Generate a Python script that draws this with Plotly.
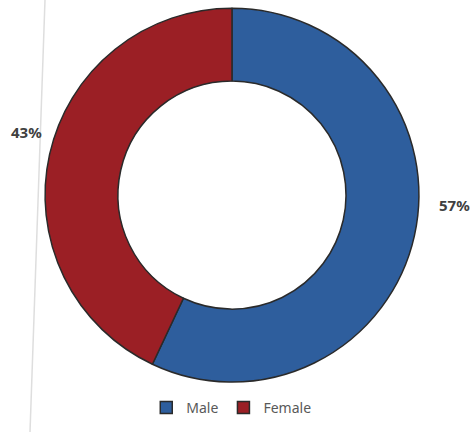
import plotly.graph_objects as go

labels = ["Male", "Female"]
values = [57, 43]
colors = ["#2E5E9D", "#9B1F25"]

fig = go.Figure()
fig.add_trace(go.Pie(
    labels=labels,
    values=values,
    hole=0.61,
    sort=False,
    direction="clockwise",
    rotation=0,
    textinfo="none",
    hoverinfo="label+percent",
    marker=dict(colors=colors, line=dict(color="#2a2a2a", width=1.5)),
    domain=dict(x=[0.0953, 0.8877], y=[0.1157, 0.981]),
))

total = sum(values)
label_pos = {"Male": (0.962, 0.525), "Female": (0.057, 0.694)}
annotations = []
for lab, v in zip(labels, values):
    x, y = label_pos[lab]
    annotations.append(dict(
        x=x, y=y, xref="paper", yref="paper", showarrow=False,
        text=f"<b>{round(100 * v / total)}%</b>",
        font=dict(family="Noto Sans", size=15, color="#404040"),
        xanchor="center", yanchor="middle",
    ))

fig.update_layout(
    width=472, height=432,
    margin=dict(l=0, r=0, t=0, b=0),
    paper_bgcolor="white", plot_bgcolor="white",
    showlegend=True,
    legend=dict(orientation="h", x=0.49, xanchor="center", y=0.056, yanchor="middle",
                font=dict(family="Noto Sans", size=14, color="#595959"),
                itemwidth=30, traceorder="normal"),
    annotations=annotations,
    shapes=[dict(type="line", xref="paper", yref="paper", x0=45/472, y0=1, x1=30/472, y1=0,
                 line=dict(color="#dedede", width=1.5))],
)

fig.write_html("out.html")
